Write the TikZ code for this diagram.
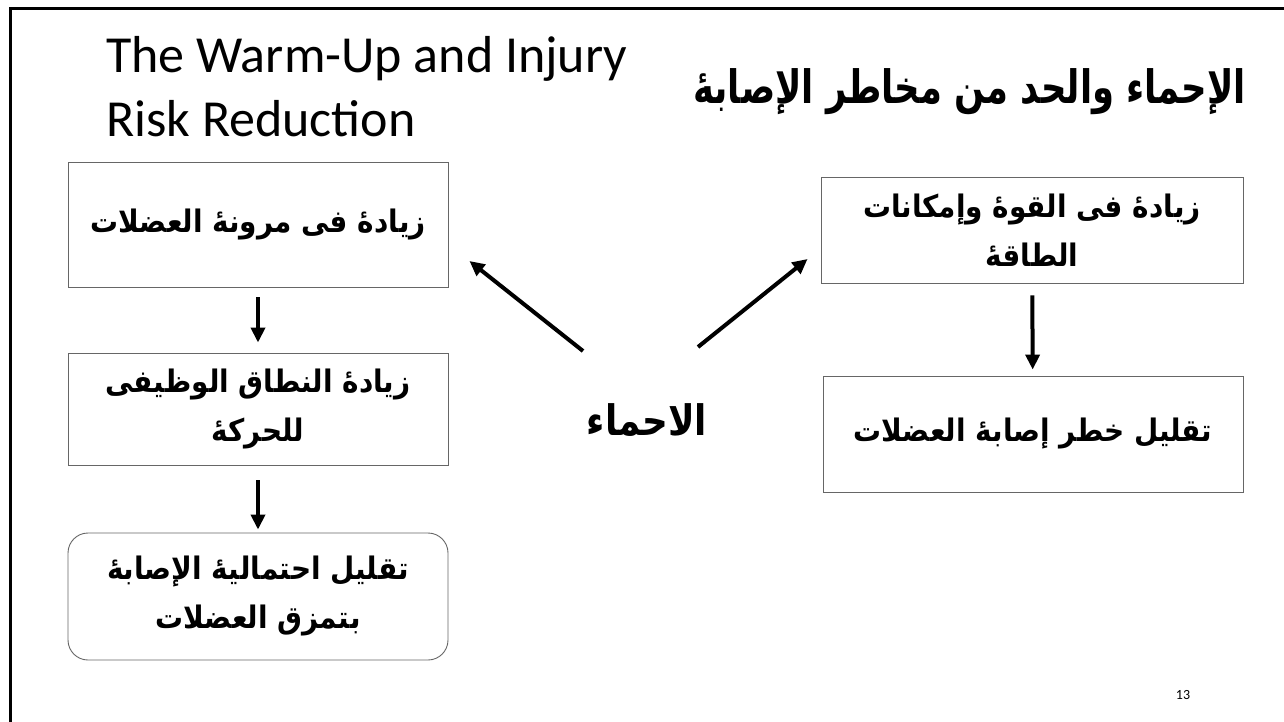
\documentclass[tikz,border=0pt]{standalone}
\usepackage{fontspec}
\setmainfont{Carlito}
\newfontfamily\arabicfont[Script=Arabic]{DejaVu Sans}
\TeXXeTstate=1
\usetikzlibrary{arrows.meta,calc}
\newcommand{\rtl}[2][0.9]{\scalebox{#1}[1]{\beginR #2\endR}}
\begin{document}
\begin{tikzpicture}[x=1pt,y=-1pt,
  box/.style={draw=black!60, line width=0.9pt, minimum width=380pt, inner sep=0pt, align=center,
    font=\arabicfont\bfseries\fontsize{31}{49}\selectfont},
  arr/.style={line width=4pt, -{Triangle[length=15pt,width=14pt]}},
  en/.style={font=\fontsize{52}{64}\selectfont, align=left, inner sep=0pt, anchor=north west}]
\useasboundingbox (0,0) rectangle (1284,722);
\fill[white] (0,0) rectangle (1284,722);
\draw[line width=3pt] (10.5,722) -- (10.5,8.5) -- (1284,8.5);

% titles
\node[en] (ten) at (106,36) {The Warm-Up and Injury\\Risk Reduction};
\node[inner sep=0pt, anchor=east, font=\arabicfont\bfseries\fontsize{46}{50}\selectfont] (tar) at (1246,92) {\rtl[0.77]{الإحماء والحد من مخاطر الإصابهٔ}};

% left column
\node[box, minimum height=125pt] (b1) at (258,224.5) {\rtl{زيادهٔ فى مرونهٔ العضلات}};
\node[box, minimum height=112pt] (b2) at (258,409) {\rtl{زيادهٔ النطاق الوظيفى}\\\rtl{للحركهٔ}};
\node[box, minimum height=127pt, rounded corners=20pt] (b3) at (258,596.5) {\rtl{تقليل احتماليهٔ الإصابهٔ}\\\rtl{بتمزق العضلات}};

% right column
\node[box, minimum width=422pt, minimum height=106pt] (r1) at (1032,230) {\rtl{زيادهٔ فى القوهٔ وإمكانات}\\\rtl{الطاقهٔ}};
\node[box, minimum width=420pt, minimum height=116pt] (r2) at (1033,434) {\rtl{تقليل خطر إصابهٔ العضلات}};

% centre
\node[inner sep=0pt, font=\arabicfont\bfseries\fontsize{42}{48}\selectfont] (warm) at (647,420) {\rtl[0.85]{الاحماء}};

% connectors
\draw[arr, shorten <=10pt, shorten >=10pt] (b1) -- (b2);
\draw[arr, shorten <=15pt, shorten >=3pt] (b2) -- (b3);
\draw[arr, shorten <=12pt, shorten >=6pt] (r1) -- (r2);
\draw[arr] ($(warm.center)+(-64,-69)$) -- ($(b1.east)+(21,36.5)$);
\draw[arr] ($(warm.center)+(51,-73)$) -- ($(r1.west)+(-13,29)$);

% page number
\node[font=\fontsize{14}{16}\selectfont] (pg) at (1183,695) {13};
\end{tikzpicture}
\end{document}
